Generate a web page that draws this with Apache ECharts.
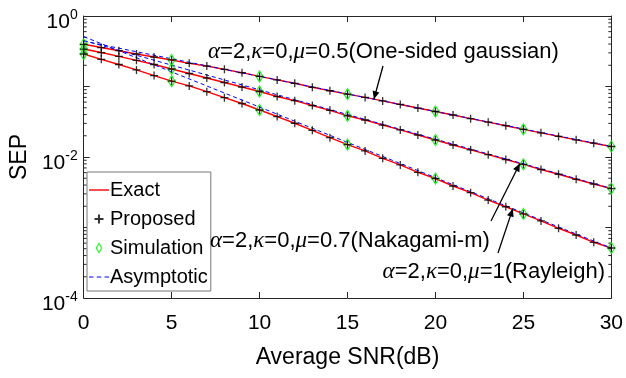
<!DOCTYPE html>
<html><head><meta charset="utf-8">
<script src="https://cdn.jsdelivr.net/npm/echarts@6/dist/echarts.min.js"></script>
<style>html,body{margin:0;padding:0;background:#fff}#c{width:626px;height:378px}</style>
</head><body><div id="c"></div>
<script>
// ---- data ----
const snrDb = [0,1,2,3,4,5,6,7,8,9,10,11,12,13,14,15,16,17,18,19,20,21,22,23,24,25,26,27,28,29,30];
const simSnrDb = [0,5,10,15,20,25,30];
const asymSnrDb = [0,10,20,30];
const xTickLabels = [0,5,10,15,20,25,30];

const exactOneSided = [0.397,0.357,0.322,0.289,0.262,0.238,0.213,0.195,0.175,0.157,0.139,0.124,0.111,0.0975,0.0871,0.0778,0.0700,0.0625,0.0556,0.0495,0.0442,0.0394,0.0350,0.0312,0.0278,0.0247,0.0220,0.0196,0.0175,0.0157,0.0141];
const exactNakagami = [0.340,0.303,0.267,0.235,0.205,0.177,0.153,0.132,0.114,0.0984,0.0849,0.0721,0.0629,0.0537,0.0459,0.0384,0.0335,0.0284,0.0242,0.0205,0.0174,0.0148,0.0126,0.0108,0.00922,0.00787,0.00665,0.00569,0.00483,0.00414,0.00357];
const exactRayleigh = [0.289,0.243,0.205,0.172,0.143,0.119,0.102,0.0844,0.0694,0.0574,0.0464,0.0375,0.0301,0.0239,0.0188,0.0150,0.0122,0.00959,0.00771,0.00607,0.00495,0.00388,0.00312,0.00245,0.00197,0.00156,0.00124,0.000975,0.000783,0.000617,0.000512];

const propOneSided = exactOneSided.slice();
const propNakagami = exactNakagami.slice();
const propRayleigh = exactRayleigh.slice();

const simOneSided = [0.397,0.238,0.139,0.0778,0.0442,0.0247,0.0141];
const simNakagami = [0.340,0.177,0.0849,0.0384,0.0174,0.00787,0.00357];
const simRayleigh = [0.289,0.119,0.0464,0.0150,0.00495,0.00156,0.000512];

const asymOneSided = [0.44,0.139,0.0442,0.0141];
const asymNakagami = [0.45,0.0897,0.0179,0.00357];
const asymRayleigh = [0.51,0.051,0.0051,0.00051];

// ---- styling ----
const FONT = "'Liberation Sans',Arial,sans-serif";
const SERIF = "'Liberation Serif','DejaVu Serif',serif";
const AX = '#262626';
const pairs = (xs, ys) => xs.map((x, i) => [x, ys[i]]);
const PLUS = 'path://M4,0L4,8M0,4L8,4';
const DIAM = 'path://M3,0L6,5L3,10L0,5Z';

const minorVals = [];
for (let k = -4; k <= -1; k++) for (let m = 2; m <= 9; m++) minorVals.push(m * Math.pow(10, k));

const chart = echarts.init(document.getElementById('c'), null, {renderer: 'canvas'});

function exactSeries(d){ return {name:'Exact', type:'line', data:pairs(snrDb,d), symbol:'none', showSymbol:false,
  lineStyle:{color:'#ff0000', width:1.4}, itemStyle:{color:'#ff0000'}, z:2, animation:false}; }
function asymSeries(d){ return {name:'Asymptotic', type:'line', data:pairs(asymSnrDb,d), symbol:'none', showSymbol:false,
  lineStyle:{color:'#0000ff', width:1, type:[4,3]}, itemStyle:{color:'#0000ff'}, z:3, animation:false}; }
function simSeries(d){ return {name:'Simulation', type:'scatter', data:pairs(simSnrDb,d), symbol:'diamond', symbolSize:[7,11],
  itemStyle:{color:'rgba(255,255,255,0)', borderColor:'#00ee00', borderWidth:1.3}, z:4, animation:false}; }
function propSeries(d){ return {name:'Proposed', type:'scatter', data:pairs(snrDb,d), symbol:PLUS, symbolSize:8,
  itemStyle:{color:'rgba(0,0,0,0)', borderColor:'#000', borderWidth:1.3}, z:5, animation:false}; }

const axisCommon = {
  axisLine:{show:true, onZero:false, lineStyle:{color:AX, width:1}},
  axisTick:{show:true, inside:true, length:6, lineStyle:{color:AX, width:1}},
  splitLine:{show:false}
};

const option = {
  animation:false,
  backgroundColor:'#fff',
  grid:{left:80, right:12, top:16, bottom:80},
  xAxis:[
    Object.assign({type:'value', min:0, max:30, interval:5, position:'bottom',
      name:'Average SNR(dB)', nameLocation:'middle', nameGap:48,
      nameTextStyle:{fontFamily:FONT, fontSize:23, color:'#000'},
      axisLabel:{fontFamily:FONT, fontSize:21, color:'#000', margin:15,
        formatter:v => xTickLabels.includes(v) ? String(v) : ''}}, axisCommon),
    Object.assign({type:'value', min:0, max:30, interval:5, position:'top', axisLabel:{show:false}}, axisCommon)
  ],
  yAxis:[
    Object.assign({type:'log', logBase:10, min:1e-4, max:1, position:'left',
      name:'SEP', nameLocation:'middle', nameGap:34,
      nameTextStyle:{fontFamily:FONT, fontSize:23, color:'#000'},
      axisLabel:{margin:6, color:'#000', padding:[12,0,0,0],
        formatter:v => { const e = Math.round(Math.log10(v)); return (e % 2 === 0) ? '{b|10}{s|' + e + '}' : ''; },
        rich:{b:{fontFamily:FONT, fontSize:21, color:'#000'}, s:{fontFamily:FONT, fontSize:14, color:'#000', padding:[0,0,14,0]}}}}, axisCommon),
    Object.assign({type:'log', logBase:10, min:1e-4, max:1, position:'right', axisLabel:{show:false}}, axisCommon)
  ],
  legend:{
    data:[
      {name:'Exact', icon:'path://M0,0H20V1.4H0Z', itemStyle:{color:'#ff0000', borderWidth:0}},
      {name:'Proposed', icon:PLUS},
      {name:'Simulation', icon:DIAM, itemStyle:{color:'rgba(255,255,255,0)', borderColor:'#00ee00', borderWidth:1.3}},
      {name:'Asymptotic', icon:'path://M0,0H4V1H0Z M7,0H11V1H7Z M14,0H18V1H14Z', itemStyle:{color:'#0000ff', borderWidth:0}}
    ],
    orient:'vertical', left:87, top:172,
    itemWidth:20, itemHeight:9, itemGap:3,
    padding:[5,3,1,2],
    backgroundColor:'#fff', borderColor:'#777', borderWidth:1,
    textStyle:{fontFamily:FONT, fontSize:20, lineHeight:26, color:'#000', padding:[0,0,0,-4]}
  },
  series:[
    exactSeries(exactOneSided), exactSeries(exactNakagami), exactSeries(exactRayleigh),
    asymSeries(asymOneSided), asymSeries(asymNakagami), asymSeries(asymRayleigh),
    simSeries(simOneSided), simSeries(simNakagami), simSeries(simRayleigh),
    propSeries(propOneSided), propSeries(propNakagami), propSeries(propRayleigh),
    {type:'custom', silent:true, z:1, animation:false,
      data: minorVals.map(v => [v]),
      renderItem:(params, api) => {
        const v = api.value(0);
        const pl = api.coord([0, v]), pr = api.coord([30, v]);
        return {type:'group', children:[
          {type:'line', shape:{x1:pl[0], y1:pl[1], x2:pl[0]+3, y2:pl[1]}, style:{stroke:AX, lineWidth:1}},
          {type:'line', shape:{x1:pr[0], y1:pr[1], x2:pr[0]-3, y2:pr[1]}, style:{stroke:AX, lineWidth:1}}
        ]};
      },
      encode:{y:0}
    }
  ]
};
chart.setOption(option);

// ---- annotations ----
function arrow(tail, tipData){
  const tip = chart.convertToPixel({xAxisIndex:0, yAxisIndex:0}, tipData);
  const dx = tip[0]-tail[0], dy = tip[1]-tail[1], L = Math.hypot(dx,dy);
  const ux = dx/L, uy = dy/L, h = 8, w = 3.5;
  const bx = tip[0]-ux*h, by = tip[1]-uy*h;
  return [
    {type:'line', shape:{x1:tail[0], y1:tail[1], x2:tip[0], y2:tip[1]}, style:{stroke:'#000', lineWidth:1.3}, z:20},
    {type:'polygon', shape:{points:[[tip[0],tip[1]],[bx-uy*w, by+ux*w],[bx+uy*w, by-ux*w]]}, style:{fill:'#000'}, z:20}
  ];
}
function label(text, x, y, align){
  return {type:'text', z:20, style:{text:text, x:x, y:y, align:align||'left', verticalAlign:'middle',
    fontFamily:FONT, fontSize:22, fill:'#000',
    rich:{g:{fontFamily:SERIF, fontStyle:'italic', fontSize:23, fill:'#000'}}}};
}
const gfx = [
  label('{g|α}=2,{g|κ}=0,{g|μ}=0.5(One-sided gaussian)', 208, 52),
  label('{g|α}=2,{g|κ}=0,{g|μ}=0.7(Nakagami-m)', 210, 241),
  label('{g|α}=2,{g|κ}=0,{g|μ}=1(Rayleigh)', 605, 272, 'right')
].concat(arrow([383,66],[16.5,0.066]), arrow([491,221],[24.8,0.0081]), arrow([498,253],[24.4,0.00185]));
chart.setOption({graphic:{elements:gfx}});
</script>
</body></html>
